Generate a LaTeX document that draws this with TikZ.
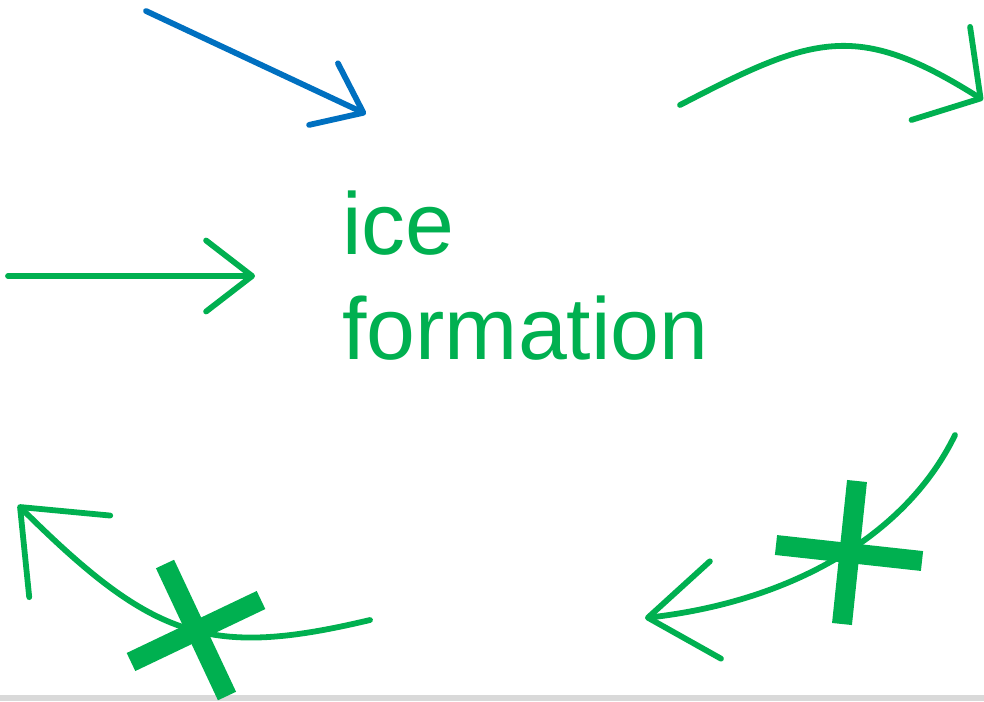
\documentclass[tikz,border=0pt]{standalone}
\usepackage{fontspec}
\setmainfont{Liberation Sans}
\usetikzlibrary{arrows.meta}
\definecolor{icegreen}{HTML}{00B050}
\definecolor{iceblue}{HTML}{0070C0}

\begin{document}
\begin{tikzpicture}[x=0.02cm,y=-0.02cm,
  ar/.style={line width=3.3pt,line cap=round,#1},
  ar/.default=icegreen,
  cr/.style={line width=0.4cm,icegreen}]
  \useasboundingbox (0,0) rectangle (984,701);
  \fill[black!15] (0,695) rectangle (984,701);
  \node[icegreen,font=\fontsize{50}{60}\selectfont,align=left,inner sep=0pt,
        anchor=north west] (ice) at (342,190) {ice\\formation};
  % end points of the arrows
  \coordinate (b0) at (146,11);  \coordinate (b1) at (366,114);
  \coordinate (g0) at (8,276);   \coordinate (g1) at (255,276);
  \coordinate (tr0) at (680,105); \coordinate (tr1) at (983,100);
  \coordinate (br0) at (955,435); \coordinate (br1) at (645,618);
  \coordinate (bl0) at (370,620); \coordinate (bl1) at (18,505);
  \draw[ar=iceblue,-{Straight Barb[length=0.88cm,width=1.36cm,round]}] (b0) -- (b1);
  \draw[ar,-{Straight Barb[length=0.92cm,width=1.42cm,round]}] (g0) -- (g1);
  \draw[ar,-{Straight Barb[length=0.94cm,width=2.2cm,round]}]
    (tr0) .. controls (813,36) and (856,20) .. (tr1);
  \draw[ar,-{Straight Barb[length=1.36cm,width=1.96cm,round]}]
    (br0) .. controls (907,534) and (794,601) .. (br1);
  \draw[ar,-{Straight Barb[length=1.4cm,width=2.3cm,round]}]
    (bl0) .. controls (210,658) and (154,640) .. (bl1);
  % crosses
  \draw[cr] (857,481) -- (842,624);
  \draw[cr] (776,545) -- (922,561);
  \draw[cr] (165,564) -- (227,696);
  \draw[cr] (131,662) -- (261,600);
\end{tikzpicture}
\end{document}
